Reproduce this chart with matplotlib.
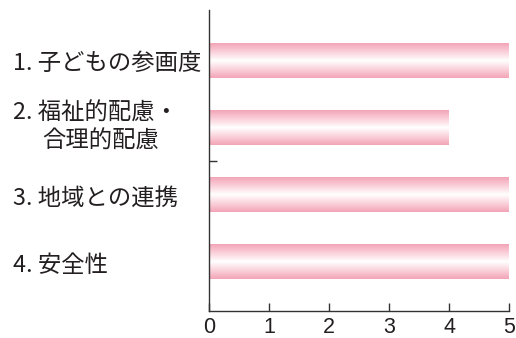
import numpy as np
import matplotlib
matplotlib.use("Agg")
import matplotlib.pyplot as plt
import matplotlib.transforms as mtransforms
from matplotlib.colors import LinearSegmentedColormap

# scores per item (top to bottom)
labels = ["1. 子どもの参画度", "2. 福祉的配慮・", "3. 地域との連携", "4. 安全性"]
label_cont = "合理的配慮"
scores = [5, 4, 5, 5]
xticks = [0, 1, 2, 3, 4, 5]

ink = "#231f20"
pink_fade = LinearSegmentedColormap.from_list(
    "pink_fade", ["#f3a4b6", "#fad2db", "#ffffff", "#fad0da", "#f3a4b6"])

fig = plt.figure(figsize=(5.16, 3.38), dpi=100)
ax = fig.add_axes([209 / 516, 1 - 311 / 338, 300 / 516, 301 / 338])

ypos = np.arange(len(scores))[::-1]
bars = ax.barh(ypos, scores, height=0.52, facecolor="none", edgecolor="none")

# vertical pink-white-pink shading inside each bar
grad = np.linspace(0, 1, 256).reshape(-1, 1)
for b in bars:
    x0, y0 = b.get_x(), b.get_y()
    im = ax.imshow(grad, cmap=pink_fade, aspect="auto", origin="lower",
                   extent=(x0, x0 + b.get_width(), y0, y0 + b.get_height()),
                   interpolation="bilinear", zorder=1)
    im.set_clip_path(b)

ax.set_xlim(0, 5)
ax.set_ylim(-0.73, 3.75)

for s in ["top", "right"]:
    ax.spines[s].set_visible(False)
for s in ["left", "bottom"]:
    ax.spines[s].set_color("#333333")
    ax.spines[s].set_linewidth(1.0)

ax.set_xticks(xticks)
ax.set_xticklabels([str(t) for t in xticks], fontfamily="Liberation Sans",
                   fontsize=15.5, color=ink)
ax.tick_params(axis="x", direction="in", length=6, width=1, color="#333333", pad=4)
ax.set_yticks([1.5])
ax.set_yticklabels([""])
ax.tick_params(axis="y", direction="in", length=6, width=1, color="#333333")

# category names on the left edge of the figure
trans = mtransforms.blended_transform_factory(fig.transFigure, ax.transData)
jp = ["Noto Sans CJK JP", "DejaVu Sans"]
kw = dict(transform=trans, ha="left", va="center", fontsize=16.8, family=jp,
          color=ink)
for y, lab in zip(ypos, labels):
    if lab.startswith("2."):
        ax.text(13 / 516, y + 0.22, lab, **kw)
        ax.text(42 / 516, y - 0.21, label_cont, **kw)
    else:
        ax.text(13 / 516, y - 0.05, lab, **kw)

fig.savefig("out.png", dpi=100)
